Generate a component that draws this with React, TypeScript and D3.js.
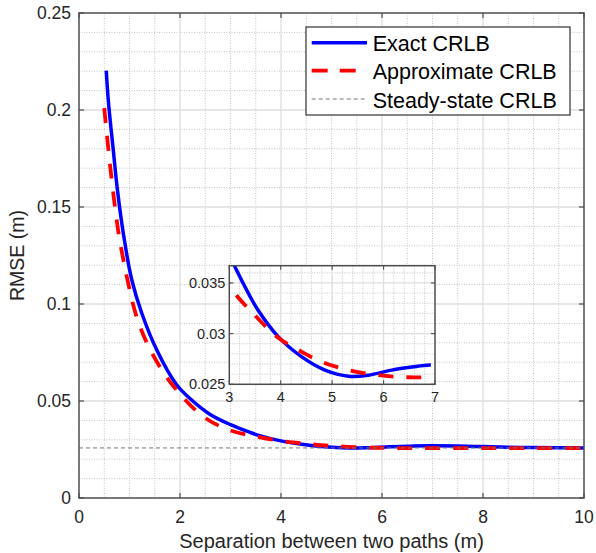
import React from "react";
import * as d3 from "d3";

// ---- data ----
const exactX = [0.54, 0.58, 0.68, 0.76, 0.88, 1.04, 1.24, 1.54, 1.93, 2.23, 2.59, 3.0, 3.39, 3.56, 3.95, 4.41, 4.86, 5.32, 5.7, 6.16, 6.55, 6.9, 7.5, 8.0, 8.5, 9.0, 9.5, 10];
const exactY = [0.2203, 0.205, 0.179, 0.159, 0.136, 0.113, 0.0955, 0.0763, 0.0585, 0.0505, 0.0432, 0.0378, 0.0338, 0.0323, 0.0297, 0.0277, 0.0264, 0.0258, 0.0259, 0.0264, 0.0267, 0.0269, 0.0268, 0.0265, 0.0262, 0.026, 0.0259, 0.0258];
const approxX = [0.5, 0.63, 0.78, 0.87, 0.96, 1.14, 1.4, 1.83, 2.46, 3.0, 3.5, 3.95, 4.34, 4.8, 5.32, 5.9, 6.42, 7.0, 8.0, 9.0, 10];
const approxY = [0.201, 0.168, 0.137, 0.124, 0.1124, 0.0935, 0.077, 0.059, 0.042, 0.0348, 0.0318, 0.0296, 0.0284, 0.0272, 0.0264, 0.0259, 0.0257, 0.0257, 0.0257, 0.0257, 0.0257];
const steadyState = 0.0258;

const xTicks = [0, 2, 4, 6, 8, 10];
const yTicks = [0, 0.05, 0.1, 0.15, 0.2, 0.25];
const yTickLabels = ["0", "0.05", "0.1", "0.15", "0.2", "0.25"];
const insetXTicks = [3, 4, 5, 6, 7];
const insetYTicks = [0.025, 0.03, 0.035];
const insetYTickLabels = ["0.025", "0.03", "0.035"];
const legendLabels = ["Exact CRLB", "Approximate CRLB", "Steady-state CRLB"];

const FONT = "'Liberation Sans', Arial, Helvetica, sans-serif";

export default function App() {
  const W = 596, H = 553;
  const m = { l: 79, r: 584, t: 13, b: 498 };
  const x = d3.scaleLinear().domain([0, 10]).range([m.l, m.r]);
  const y = d3.scaleLinear().domain([0, 0.25]).range([m.b, m.t]);

  const ins = { l: 229.3, r: 435, t: 265.7, b: 384.3 };
  const xi = d3.scaleLinear().domain([3, 7]).range([ins.l, ins.r]);
  const yi = d3.scaleLinear().domain([0.025, 0.0367]).range([ins.b, ins.t]);

  const exact = exactX.map((v, i) => [v, exactY[i]] as [number, number]);
  const approx = approxX.map((v, i) => [v, approxY[i]] as [number, number]);

  const curve = d3.curveCatmullRom.alpha(0.5);
  const lineMain = d3.line<[number, number]>().x(d => x(d[0])).y(d => y(d[1])).curve(curve);
  const lineIns = d3.line<[number, number]>().x(d => xi(d[0])).y(d => yi(d[1])).curve(curve);

  const xMinor = d3.range(0.5, 10, 0.5).filter(v => Math.abs(v / 2 - Math.round(v / 2)) > 1e-6);
  const yMinor = d3.range(0.01, 0.25, 0.01).filter(v => Math.abs(v / 0.05 - Math.round(v / 0.05)) > 1e-6);
  const xiMinor = d3.range(3.2, 7, 0.2).filter(v => Math.abs(v - Math.round(v)) > 1e-6);
  const yiMinor = d3.range(0.026, 0.0367, 0.001).filter(v => Math.abs(v / 0.005 - Math.round(v / 0.005)) > 1e-6);

  const majorStroke = "#dedede";
  const minorStroke = "#c4c4c4";
  const axisStroke = "#4d4d4d";
  const tickText = "#262626";

  const legX = 306, legY = 27, legW = 264, legH = 88;
  const legRows = [42.7, 70.7, 99];

  return (
    <svg width={W} height={H} style={{ position: "absolute", left: 0, top: 0, background: "#fff" }} fontFamily={FONT}>
      <defs>
        <clipPath id="mainClip">
          <rect x={m.l} y={m.t} width={m.r - m.l} height={m.b - m.t} />
        </clipPath>
        <clipPath id="insClip">
          <rect x={ins.l} y={ins.t} width={xi(6.92) - ins.l} height={ins.b - ins.t} />
        </clipPath>
      </defs>
      <rect x={0} y={0} width={W} height={H} fill="#fff" />
      {/* main grid */}
      {xMinor.map(v => (
        <line key={"xm" + v} x1={x(v)} x2={x(v)} y1={m.t} y2={m.b} stroke={minorStroke} strokeWidth={1} strokeDasharray="1,1.5" />
      ))}
      {yMinor.map(v => (
        <line key={"ym" + v} x1={m.l} x2={m.r} y1={y(v)} y2={y(v)} stroke={minorStroke} strokeWidth={1} strokeDasharray="1,1.5" />
      ))}
      {xTicks.slice(1, -1).map(v => (
        <line key={"xM" + v} x1={x(v)} x2={x(v)} y1={m.t} y2={m.b} stroke={majorStroke} strokeWidth={1.3} />
      ))}
      {yTicks.slice(1, -1).map(v => (
        <line key={"yM" + v} x1={m.l} x2={m.r} y1={y(v)} y2={y(v)} stroke={majorStroke} strokeWidth={1.3} />
      ))}
      {/* curves */}
      <g clipPath="url(#mainClip)">
        <path d={lineMain(exact) || ""} fill="none" stroke="#0000ff" strokeWidth={3.5} />
        <path d={lineMain(approx) || ""} fill="none" stroke="#ff0000" strokeWidth={3.8} strokeDasharray="15,13" />
        <line x1={x(0)} x2={x(10)} y1={y(steadyState)} y2={y(steadyState)} stroke="#777" strokeWidth={1} strokeDasharray="4,3" />
      </g>
      {/* axes box */}
      <rect x={m.l} y={m.t} width={m.r - m.l} height={m.b - m.t} fill="none" stroke={axisStroke} strokeWidth={1.5} />
      {xTicks.map(v => (
        <g key={"xt" + v}>
          <line x1={x(v)} x2={x(v)} y1={m.b} y2={m.b - 5} stroke={axisStroke} strokeWidth={1.2} />
          <line x1={x(v)} x2={x(v)} y1={m.t} y2={m.t + 5} stroke={axisStroke} strokeWidth={1.2} />
          <text x={x(v)} y={m.b + 25} textAnchor="middle" fontSize={17.5} fill={tickText}>{String(v)}</text>
        </g>
      ))}
      {yTicks.map((v, i) => (
        <g key={"yt" + v}>
          <line x1={m.l} x2={m.l + 5} y1={y(v)} y2={y(v)} stroke={axisStroke} strokeWidth={1.2} />
          <line x1={m.r} x2={m.r - 5} y1={y(v)} y2={y(v)} stroke={axisStroke} strokeWidth={1.2} />
          <text x={m.l - 8} y={y(v) + 6} textAnchor="end" fontSize={17.5} fill={tickText}>{yTickLabels[i]}</text>
        </g>
      ))}
      <text x={(m.l + m.r) / 2} y={547.7} textAnchor="middle" fontSize={20} fill={tickText}>Separation between two paths (m)</text>
      <text transform={`translate(24, ${(m.t + m.b) / 2}) rotate(-90)`} textAnchor="middle" fontSize={19.5} fill={tickText}>RMSE (m)</text>

      {/* legend */}
      <rect x={legX} y={legY} width={legW} height={legH} fill="#fff" stroke="#333" strokeWidth={1.2} />
      <line x1={311.7} x2={367} y1={legRows[0]} y2={legRows[0]} stroke="#0000ff" strokeWidth={3.5} />
      <line x1={311.7} x2={367} y1={legRows[1]} y2={legRows[1]} stroke="#ff0000" strokeWidth={3.8} strokeDasharray="16,12" />
      <line x1={311.7} x2={367} y1={legRows[2]} y2={legRows[2]} stroke="#777" strokeWidth={1} strokeDasharray="4,3" />
      {legendLabels.map((s, i) => (
        <text key={s} x={372.7} y={legRows[i] + 8.5} fontSize={21.5} fill="#000">{s}</text>
      ))}

      {/* inset */}
      <rect x={ins.l} y={ins.t} width={ins.r - ins.l} height={ins.b - ins.t} fill="#fff" />
      {xiMinor.map(v => (
        <line key={"xim" + v} x1={xi(v)} x2={xi(v)} y1={ins.t} y2={ins.b} stroke={minorStroke} strokeWidth={1} strokeDasharray="1,1.5" />
      ))}
      {yiMinor.map(v => (
        <line key={"yim" + v} x1={ins.l} x2={ins.r} y1={yi(v)} y2={yi(v)} stroke={minorStroke} strokeWidth={1} strokeDasharray="1,1.5" />
      ))}
      {insetXTicks.slice(1, -1).map(v => (
        <line key={"xiM" + v} x1={xi(v)} x2={xi(v)} y1={ins.t} y2={ins.b} stroke={majorStroke} strokeWidth={1.3} />
      ))}
      {insetYTicks.slice(1).map(v => (
        <line key={"yiM" + v} x1={ins.l} x2={ins.r} y1={yi(v)} y2={yi(v)} stroke={majorStroke} strokeWidth={1.3} />
      ))}
      <g clipPath="url(#insClip)">
        <path d={lineIns(exact) || ""} fill="none" stroke="#0000ff" strokeWidth={3.5} />
        <path d={lineIns(approx) || ""} fill="none" stroke="#ff0000" strokeWidth={3.8} strokeDasharray="15,13" />
      </g>
      <rect x={ins.l} y={ins.t} width={ins.r - ins.l} height={ins.b - ins.t} fill="none" stroke={axisStroke} strokeWidth={1.5} />
      {insetXTicks.map(v => (
        <g key={"xit" + v}>
          <line x1={xi(v)} x2={xi(v)} y1={ins.b} y2={ins.b - 4} stroke={axisStroke} strokeWidth={1.1} />
          <line x1={xi(v)} x2={xi(v)} y1={ins.t} y2={ins.t + 4} stroke={axisStroke} strokeWidth={1.1} />
          <text x={xi(v)} y={401.7} textAnchor="middle" fontSize={14.5} fill={tickText}>{String(v)}</text>
        </g>
      ))}
      {insetYTicks.map((v, i) => (
        <g key={"yit" + v}>
          <line x1={ins.l} x2={ins.l + 4} y1={yi(v)} y2={yi(v)} stroke={axisStroke} strokeWidth={1.1} />
          <line x1={ins.r} x2={ins.r - 4} y1={yi(v)} y2={yi(v)} stroke={axisStroke} strokeWidth={1.1} />
          <text x={ins.l - 4} y={yi(v) + 5} textAnchor="end" fontSize={14.5} fill={tickText}>{insetYTickLabels[i]}</text>
        </g>
      ))}
    </svg>
  );
}
